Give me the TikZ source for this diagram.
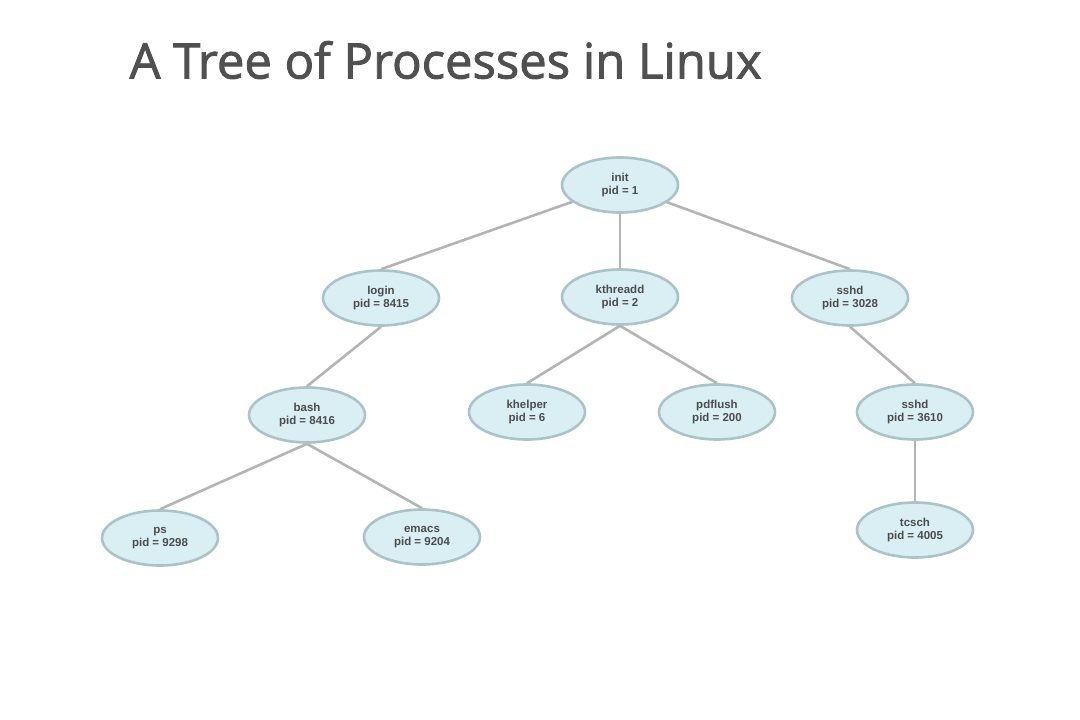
\documentclass[tikz,border=0pt]{standalone}
\usepackage{fontspec}
\setmainfont{Liberation Sans}
\newfontfamily\titlefont[FakeBold=1.8]{Open Sans}
\usetikzlibrary{shapes.geometric,backgrounds}
\definecolor{nodefill}{HTML}{D9EFF3}
\definecolor{nodeline}{HTML}{A9C3C7}
\definecolor{edgecol}{HTML}{B4B4B4}
\definecolor{titlecol}{HTML}{505050}
\tikzset{
  proc/.style={ellipse, draw=nodeline, line width=2.6pt, fill=nodefill,
    minimum width=116pt, minimum height=55pt, inner sep=0pt,
    align=center, font=\bfseries\fontsize{11.5}{12.5}\selectfont, text=black!70},
  edge/.style={draw=edgecol, line width=2.6pt}
}
\begin{document}
\begin{tikzpicture}[x=1pt,y=-1pt]
\useasboundingbox (0,0) rectangle (1080,720);
\node[anchor=west, font=\titlefont\fontsize{49}{52}\selectfont, text=titlecol] (title) at (126,60) {A Tree of Processes in Linux};
\node[proc] (init) at (620,185) {init\\pid = 1};
\node[proc] (login) at (381,298) {login\\pid = 8415};
\node[proc] (kthreadd) at (620,297) {kthreadd\\pid = 2};
\node[proc] (sshd) at (850,298) {sshd\\pid = 3028};
\node[proc] (bash) at (307,415) {bash\\pid = 8416};
\node[proc] (khelper) at (527,412) {khelper\\pid = 6};
\node[proc] (pdflush) at (717,412) {pdflush\\pid = 200};
\node[proc] (sshdb) at (915,412) {sshd\\pid = 3610};
\node[proc] (ps) at (160,538) {ps\\pid = 9298};
\node[proc] (emacs) at (422,537) {emacs\\pid = 9204};
\node[proc] (tcsch) at (915,530) {tcsch\\pid = 4005};
\begin{scope}[on background layer]
\draw[edge] (init.center) -- (login.north);
\draw[edge] (init.center) -- (kthreadd.north);
\draw[edge] (init.center) -- (sshd.north);
\draw[edge] (login.south) -- (bash.north);
\draw[edge] (kthreadd.south) -- (khelper.north);
\draw[edge] (kthreadd.south) -- (pdflush.north);
\draw[edge] (sshd.south) -- (sshdb.north);
\draw[edge] (bash.south) -- (ps.north);
\draw[edge] (bash.south) -- (emacs.north);
\draw[edge] (sshdb.south) -- (tcsch.north);
\end{scope}
\end{tikzpicture}
\end{document}
